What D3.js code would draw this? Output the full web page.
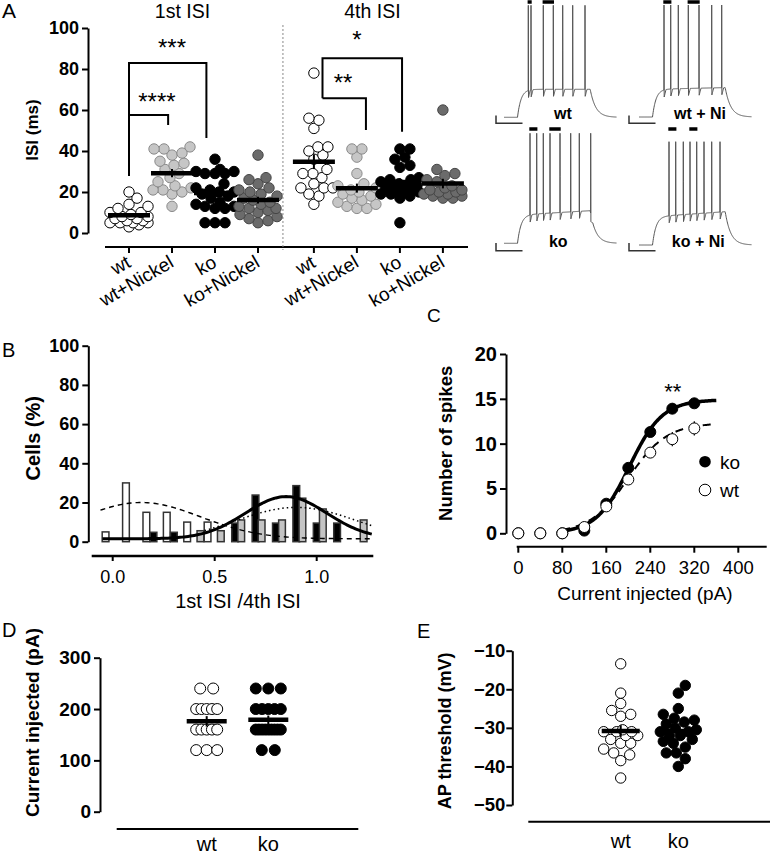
<!DOCTYPE html>
<html><head><meta charset="utf-8">
<script src="https://cdn.jsdelivr.net/npm/d3@7"></script>
<style>body{margin:0;background:#fff}svg{display:block}</style>
</head><body><svg id="c" width="771" height="856"></svg>
<script>
// ================= DATA =================
// Panel A : ISI (ms)
const groupLabels = ["wt","wt+Nickel","ko","ko+Nickel"];
const isi1Wt   = [20,17,14,13,12,10,10,9,8,8,7,7,6,6,5,5,5,5,4,3];
const isi1WtNi = [42,41,41,39,38,35,34,33,31,29,27,25,23,22,21,21,20,19,13];
const isi1Ko   = [36,31,30,30,29,29,29,24,22,21,20,20,19,18,17,15,14,13,13,12,12,5,5,5];
const isi1KoNi = [38,27,26,24,22,21,20,19,18,17,16,15,14,13,12,12,11,10,9,8,7,6,5];
const isi4Wt   = [78,56,55,51,42,42,40,38,36,31,29,29,27,24,22,22,22,19,18,14];
const isi4WtNi = [41,41,37,29,24,23,22,21,20,19,18,17,16,15,14,13,12,12];
const isi4Ko   = [41,41,37,36,33,32,27,26,26,25,24,23,23,22,22,21,21,20,20,19,19,18,17,5];
const isi4KoNi = [60,31,29,28,26,25,23,22,21,21,20,20,19,19,18,18,17,17];
const ticksA = [0,20,40,60,80,100];
const panelTitlesA = ["1st ISI","4th ISI"];
// significance brackets: [group index, ISI value] vertices
const bracketsA = [
  [[0,27.8],[0,82.9],[1.8,82.9],[1.8,46.3]],
  [[0,57.6],[0.91,57.6],[0.91,52.7]],
  [[4.5,65.7],[4.5,85.2],[6.35,85.2],[6.35,49.4]],
  [[4.5,65.7],[5.51,65.7],[5.51,50.2]]
];
const starsA = [["***",1.0,92.7],["****",0.65,66.3],["*",5.3,96.6],["**",4.98,75.6]];

// Example traces (ms, mV)
const traceLabels = ["wt","wt + Ni","ko","ko + Ni"];
const traceSpikes = [
  [243,270,393,493,587,687,810],
  [250,317,393,493,600,727,827],
  [260,327,393,460,560,667,753,867],
  [300,367,443,510,577,650,727,810]
];
const tracePeaks = [10,10,8.6,3.8];
const tracePlateau = [[-50,-50],[-50.2,-49],[-49.8,-46.7],[-49.8,-46.2]];
const traceRest = -70, stimOn = 135, stimOff = 862, traceDur = 1125;
const isiBarPairs = [[[0,1],[2,3]],[[0,1],[3,4]],[[0,1],[3,4]],[[0,1],[3,4]]];

// Panel B : histogram of 1st ISI / 4th ISI
const binsB = [0,0.1,0.2,0.3,0.4,0.5,0.6,0.7,0.8,0.9,1.0,1.1,1.2];
const histWt   = [5,30,15,15,10,10,0,0,0,0,0,0,0];
const histKo   = [0,0,4.8,4.8,0,0,9.5,23.8,9.5,28.6,9.5,9.5,0];
const histGrey = [0,0,0,0,5.6,5.6,11.1,11.1,11.1,22.2,16.7,0,11.1];
const ticksBx = [0,0.5,1.0];
const ticksBy = [0,20,40,60,80,100];
const gaussWt   = [1.5,18.5,0.14,0.29];   // base, amplitude, mean, sd
const gaussKo   = [1.5,21.5,0.85,0.20];
const gaussGrey = [0,17.5,0.90,0.30];

// Panel C : input-output
const currentsC = [0,40,80,120,160,200,240,280,320];
const spikesKo = [0,0,0,0.3,3.3,7.3,11.3,13.9,14.5];
const spikesWt = [0,0,0,0.7,3.0,6.0,9.0,10.5,11.7];
const semKo = [0,0,0,0.2,0.4,0.5,0.5,0.6,0.5];
const semWt = [0,0,0,0.3,0.4,0.5,0.6,0.8,0.8];
const boltzKo = [14.9,202,30];  // max, V50, slope
const boltzWt = [12.3,200,35];
const ticksCx = [0,80,160,240,320,400];
const ticksCy = [0,5,10,15,20];

// Panel D : rheobase current
const rheoWt = [240,240,200,200,200,200,200,160,160,160,160,160,120,120,120];
const rheoKo = [240,240,240,200,200,200,200,200,160,160,160,160,160,160,160,160,160,120,120];
const ticksD = [0,100,200,300];

// Panel E : AP threshold
const thrWt = [-13.4,-21,-23.7,-25.5,-26.5,-27,-30.5,-31,-31,-31,-32,-32,-33,-34,-34,-35.5,-36.5,-37,-38.5,-43];
const thrKo = [-19,-21,-25,-26.5,-27.5,-28,-28.5,-29,-30,-30.5,-31,-31,-32,-32,-33,-33.5,-34,-35,-36.5,-36.5,-38,-40];
const ticksE = [-50,-40,-30,-20,-10];
const genoLabels = ["wt","ko"];

// ================= DRAWING =================
const FONT = '"Liberation Sans", Arial, Helvetica, sans-serif';
const svg = d3.select("#c");
svg.append("rect").attr("width",771).attr("height",856).attr("fill","#fff");

function text(x,y,s,size,opt={}) {
  const t = svg.append("text").attr("x",x).attr("y",y).text(s)
    .attr("font-family",FONT).attr("font-size",size)
    .attr("font-weight",opt.bold?"bold":"normal")
    .attr("text-anchor",opt.anchor||"start").attr("fill","#000");
  if (opt.rot) t.attr("transform",`rotate(${opt.rot},${x},${y})`);
  return t;
}
function line(x1,y1,x2,y2,w,col="#000",dash=null){
  const l = svg.append("line").attr("x1",x1).attr("y1",y1).attr("x2",x2).attr("y2",y2)
    .attr("stroke",col).attr("stroke-width",w);
  if (dash) l.attr("stroke-dasharray",dash);
  return l;
}
function yAxis(scale,x,ticks,fmt,fs,sw,pad=3){
  const g = svg.append("g").attr("transform",`translate(${x},0)`)
    .call(d3.axisLeft(scale).tickValues(ticks).tickFormat(fmt).tickSize(6).tickSizeOuter(0).tickPadding(pad));
  g.select(".domain").attr("stroke","#000").attr("stroke-width",sw);
  g.selectAll(".tick line").attr("stroke","#000").attr("stroke-width",sw);
  g.selectAll(".tick text").attr("font-size",fs).attr("font-weight","bold").attr("font-family",FONT).attr("fill","#000");
  return g;
}
function swarm(vals, ys, cx, r, maxOff, minFrac=0.95){
  const pts = vals.map(v=>({v,y:ys(v)})).sort((a,b)=>b.y-a.y);
  const placed=[];
  for (const p of pts){
    let best=0, bestScore=-Infinity;
    for (let k=0;k<=2*maxOff;k++){
      const off = (k%2?1:-1)*Math.ceil(k/2);
      let md=Infinity;
      for (const q of placed){ const d=Math.hypot(q.x-(cx+off),q.y-p.y); if(d<md) md=d; }
      if (md>=2*r*minFrac){ best=off; break; }
      if (md>bestScore){ bestScore=md; best=off; }
    }
    p.x=cx+best; placed.push(p);
  }
  return pts;
}
function rowsLayout(vals, ys, cx, maxW, d){
  const out=[];
  d3.groups(vals,v=>v).forEach(([v,arr])=>{
    const n=arr.length, s=n>1?Math.min(d,maxW/(n-1)):0;
    arr.forEach((_,i)=>out.push({v,x:cx+(i-(n-1)/2)*s,y:ys(v)}));
  });
  return out;
}
function dots(pts,r,fill,stroke,sw=1){
  svg.append("g").selectAll("circle").data(pts).join("circle")
    .attr("cx",d=>d.x).attr("cy",d=>d.y).attr("r",r)
    .attr("fill",fill).attr("stroke",stroke).attr("stroke-width",sw);
}
function meanSem(vals, ys, cx, hw, lw){
  const m=d3.mean(vals), se=d3.deviation(vals)/Math.sqrt(vals.length);
  line(cx,ys(m-se),cx,ys(m+se),2);
  line(cx-hw,ys(m),cx+hw,ys(m),lw);
}

// ---------- Panel A ----------
const xA = d3.scaleLinear().domain([0,7.3]).range([129,442.9]);
const yA = d3.scaleLinear().domain([0,100]).range([233,28]);
yAxis(yA,88,ticksA,d3.format("d"),18,2,3);
line(105,247,468,247,2);
line(xA(3.58),25,xA(3.58),250,1,"#888","2,2");
text(2,18.3,"A",21);
text(xA(1.5)-11,17.5,panelTitlesA[0],19.5,{anchor:"middle"});
text(xA(5.8)-6,17.5,panelTitlesA[1],19.5,{anchor:"middle"});
text(37.5,130,"ISI (ms)",17,{bold:true,anchor:"middle",rot:-90});

const setsA = [isi1Wt,isi1WtNi,isi1Ko,isi1KoNi,isi4Wt,isi4WtNi,isi4Ko,isi4KoNi];
const idxA  = [0,1,2,3,4.3,5.3,6.3,7.3];
const styleA = [["#fff","#000"],["#c6c6c6","#8a8a8a"],["#000","#000"],["#6b6b6b","#454545"]];
setsA.forEach((vals,k)=>{
  const cx=xA(idxA[k]); const st=styleA[k%4];
  line(cx,247,cx,253,2);
  text(cx+3,266,groupLabels[k%4],19,{anchor:"end",rot:-30});
  dots(swarm(vals,yA,cx,5.2,19,0.9),5.2,st[0],st[1],1);
  meanSem(vals,yA,cx,21,4.5);
});
bracketsA.forEach(b=>{
  svg.append("path").attr("d",d3.line().x(d=>xA(d[0])).y(d=>yA(d[1]))(b))
    .attr("fill","none").attr("stroke","#000").attr("stroke-width",2);
});
starsA.forEach(([s,i,v])=>text(xA(i),yA(v)+13,s,24,{anchor:"middle"}));

// ---------- Traces ----------
const traceOrigins = [[504,117.3],[639,117],[504,243.3],[639,245]];
const barRowY = [2,2,129,129];
const labelPos = [[563,119.3],[700,119.3],[558.3,246.7],[698.3,246.7]];
const scaleBarOrig = [[496,123.3],[629,123.3],[496,250.7],[629,250.7]];
traceLabels.forEach((lab,k)=>{
  const [ox,oy]=traceOrigins[k];
  const tx=d3.scaleLinear().domain([0,traceDur]).range([ox,ox+traceDur/10]);
  const ty=d3.scaleLinear().domain([traceRest,traceRest+100]).range([oy,oy-140]);
  const sp=traceSpikes[k], peak=tracePeaks[k], [p0,p1]=tracePlateau[k];
  const tauOn=35,tauOff=55;
  function base(t){
    if(t<stimOn) return traceRest;
    if(t<=stimOff){const pl=p0+(p1-p0)*(t-stimOn)/(stimOff-stimOn);return traceRest+(pl-traceRest)*(1-Math.exp(-(t-stimOn)/tauOn));}
    const vOff=traceRest+(p1-traceRest)*(1-Math.exp(-(stimOff-stimOn)/tauOn));
    return traceRest+(vOff-traceRest)*Math.exp(-(t-stimOff)/tauOff);
  }
  function V(t){
    const b=base(t); let s=0;
    for(const ts of sp){const dt=t-ts;
      if(dt>=-1&&dt<=0) s+=(peak-b)*(dt+1);
      else if(dt>0&&dt<=2) s+=(peak-b)*(1-dt/2)-5*(dt/2);
      else if(dt>2&&dt<=20) s+=-5*(1-(dt-2)/18);}
    return b+s;
  }
  let ts=d3.range(0,traceDur+1,3).concat(sp.flatMap(s=>[s-1,s,s+2]),[stimOn-0.5,stimOn]);
  ts=Array.from(new Set(ts)).sort((a,b)=>a-b);
  svg.append("path").attr("d",d3.line().x(t=>tx(t)).y(t=>ty(V(t)))(ts))
    .attr("fill","none").attr("stroke","#555").attr("stroke-width",1);
  isiBarPairs[k].forEach(([a,b])=>line(tx(sp[a])-0.7,barRowY[k],tx(sp[b])+0.7,barRowY[k],3.5));
  text(labelPos[k][0],labelPos[k][1],lab,16,{bold:true,anchor:"middle"});
  const [sx,sy]=scaleBarOrig[k];
  svg.append("path").attr("d",`M${sx},${sy-7.7}V${sy}H${sx+26.5}`).attr("fill","none").attr("stroke","#333").attr("stroke-width",1.5);
});

// ---------- Panel B ----------
const xB = d3.scaleLinear().domain([0,1]).range([112.7,316.7]);
const yB = d3.scaleLinear().domain([0,100]).range([541.7,345.7]);
yAxis(yB,88.3,ticksBy,d3.format("d"),18,2,3);
line(91.7,556,373.3,556,2.5);
ticksBx.forEach(v=>{ line(xB(v),556,xB(v),561,2); text(xB(v),583,d3.format(".1f")(v),18,{anchor:"middle"}); });
text(238,608,"1st ISI /4th ISI",20,{anchor:"middle"});
text(2,356.7,"B",20);
text(39.6,438.3,"Cells (%)",20,{bold:true,anchor:"middle",rot:-90});
const bw = 0.033;
function bars(vals,off,fill){
  svg.append("g").selectAll("rect").data(binsB.map((b,i)=>[b,vals[i]]).filter(d=>d[1]>0)).join("rect")
    .attr("x",d=>xB(d[0]+off-bw/2)).attr("width",xB(bw)-xB(0))
    .attr("y",d=>yB(d[1])).attr("height",d=>yB(0)-yB(d[1]))
    .attr("fill",fill).attr("stroke","#333").attr("stroke-width",1.5);
}
bars(histWt,-0.035,"#fff");
bars(histKo,0,"#000");
bars(histGrey,0.03,"#c4c4c4");
function gauss(p,from,to,w,dash){
  const [b,a,m,s]=p;
  const xs=d3.range(from,to+0.0001,0.01);
  const pth=svg.append("path").attr("d",d3.line().x(x=>xB(x)).y(x=>yB(b+a*Math.exp(-((x-m)**2)/(2*s*s))))(xs))
    .attr("fill","none").attr("stroke","#000").attr("stroke-width",w);
  if(dash) pth.attr("stroke-dasharray",dash);
}
gauss(gaussWt,-0.06,1.27,1.4,"5,4");
gauss(gaussGrey,0.45,1.27,1.5,"1.5,3");
gauss(gaussKo,-0.05,1.27,3,null);

// ---------- Panel C ----------
const xC = d3.scaleLinear().domain([0,400]).range([518.3,738.3]);
const yC = d3.scaleLinear().domain([0,20]).range([533.3,354]);
yAxis(yC,506,ticksCy,d3.format("d"),20,2,3);
line(516.7,546.7,766.7,546.7,2);
ticksCx.forEach(v=>{ line(xC(v),546.7,xC(v),552.7,2); text(xC(v),574,v,18.5,{anchor:"middle"}); });
text(645,600,"Current injected (pA)",19,{anchor:"middle"});
text(427,321.7,"C",19);
text(451.8,443.3,"Number of spikes",18.5,{bold:true,anchor:"middle",rot:-90});
function boltz(p,x){return p[0]/(1+Math.exp((p[1]-x)/p[2]));}
const xsC=d3.range(80,360.1,2);
svg.append("path").attr("d",d3.line().x(x=>xC(x)).y(x=>yC(boltz(boltzWt,x)))(xsC))
  .attr("fill","none").attr("stroke","#000").attr("stroke-width",2).attr("stroke-dasharray","8,6");
svg.append("path").attr("d",d3.line().x(x=>xC(x)).y(x=>yC(boltz(boltzKo,x)))(xsC))
  .attr("fill","none").attr("stroke","#000").attr("stroke-width",3.5);
currentsC.forEach((c,i)=>{ if(semKo[i]>0) line(xC(c),yC(spikesKo[i]-semKo[i]),xC(c),yC(spikesKo[i]+semKo[i]),1.2); });
dots(currentsC.map((c,i)=>({x:xC(c),y:yC(spikesKo[i])})),5.5,"#000","#000");
currentsC.forEach((c,i)=>{ if(semWt[i]>0) line(xC(c),yC(spikesWt[i]-semWt[i]),xC(c),yC(spikesWt[i]+semWt[i]),1.2); });
dots(currentsC.map((c,i)=>({x:xC(c),y:yC(spikesWt[i])})),5.5,"#fff","#000");
text(xC(280)+0.5,398.5,"**",22,{anchor:"middle"});
svg.append("circle").attr("cx",705).attr("cy",461.7).attr("r",5.8).attr("fill","#000");
text(720,468.5,"ko",19);
svg.append("circle").attr("cx",705).attr("cy",490).attr("r",5.8).attr("fill","#fff").attr("stroke","#000");
text(720,497,"wt",19);

// ---------- Panel D ----------
const yD = d3.scaleLinear().domain([0,300]).range([811.7,657.7]);
yAxis(yD,100,ticksD,d3.format("d"),19,2,3);
line(116.7,829,358.3,829,2);
const cxD=[206.7,268.3];
text(cxD[0],850.5,genoLabels[0],20,{anchor:"middle"});
text(cxD[1],850.5,genoLabels[1],20,{anchor:"middle"});
text(2,636.7,"D",20);
text(38.9,722.5,"Current injected (pA)",19,{bold:true,anchor:"middle",rot:-90});
dots(rowsLayout(rheoWt,yD,cxD[0],21,13),5.5,"#fff","#000");
meanSem(rheoWt,yD,cxD[0],20,4.5);
dots(rowsLayout(rheoKo,yD,cxD[1],25,13),5.5,"#000","#000");
meanSem(rheoKo,yD,cxD[1],20,4.5);

// ---------- Panel E ----------
const yE = d3.scaleLinear().domain([-50,-10]).range([805,650.7]);
yAxis(yE,512.3,ticksE,v=>"\u2212"+Math.abs(v),18.5,2,1);
line(528.3,821.7,770,821.7,2);
const cxE=[620.7,678.3];
text(cxE[0],848,genoLabels[0],20,{anchor:"middle"});
text(cxE[1],848,genoLabels[1],20,{anchor:"middle"});
text(417,638.3,"E",20);
text(451.4,730.8,"AP threshold (mV)",18,{bold:true,anchor:"middle",rot:-90});
dots(swarm(thrWt,yE,cxE[0],5.2,18,0.95),5.2,"#fff","#000");
meanSem(thrWt,yE,cxE[0],19,4.5);
dots(swarm(thrKo,yE,cxE[1],5.2,18,0.95),5.2,"#000","#000");
meanSem(thrKo,yE,cxE[1],20,4.5);
</script></body></html>
